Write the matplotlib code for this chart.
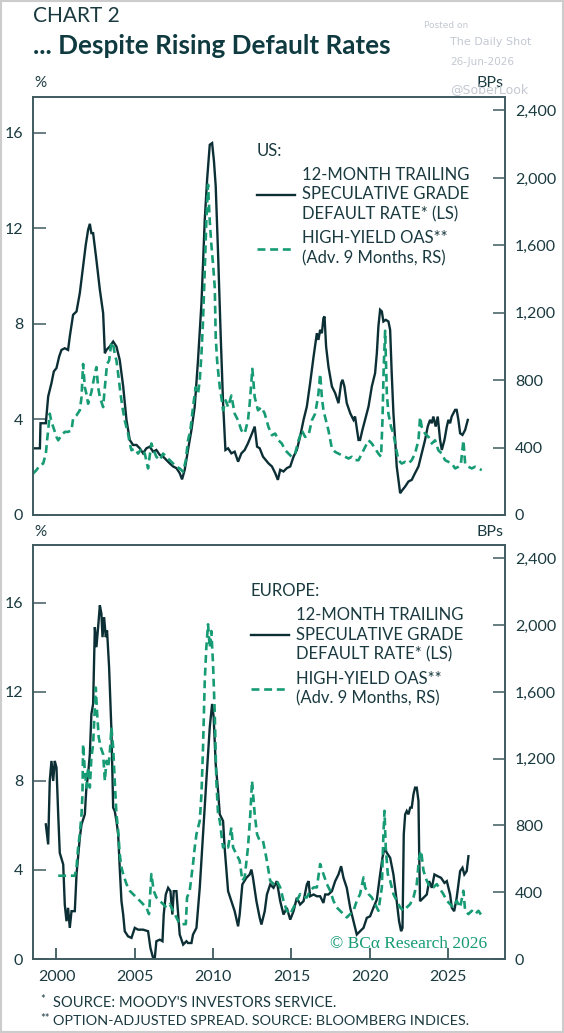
import matplotlib
matplotlib.use("Agg")
import matplotlib.pyplot as plt
from matplotlib.patches import Rectangle
from matplotlib.ticker import FuncFormatter

# US: 12-month trailing spec grade default rate (%)
us_def_year = [1998.62, 1998.94, 1998.98, 1999.32, 1999.47, 1999.68, 1999.83, 2000.00, 2000.17, 2000.32,
               2000.53, 2000.74, 2000.85, 2001.06, 2001.28, 2001.49, 2001.70, 2001.87, 2002.02, 2002.13,
               2002.23, 2002.34, 2002.55, 2002.77, 2002.98, 2003.09, 2003.19, 2003.40, 2003.62, 2003.83,
               2004.04, 2004.26, 2004.47, 2004.68, 2004.89, 2005.11, 2005.32, 2005.53, 2005.74, 2005.96,
               2006.17, 2006.38, 2006.60, 2006.81, 2007.02, 2007.23, 2007.45, 2007.66, 2007.87, 2008.02,
               2008.19, 2008.40, 2008.62, 2008.83, 2009.04, 2009.26, 2009.47, 2009.62, 2009.79, 2009.94,
               2010.06, 2010.17, 2010.32, 2010.49, 2010.64, 2010.79, 2010.96, 2011.17, 2011.38, 2011.60,
               2011.81, 2012.02, 2012.23, 2012.45, 2012.66, 2012.81, 2012.98, 2013.19, 2013.54, 2013.76,
               2013.97, 2014.14, 2014.29, 2014.50, 2014.71, 2014.93, 2015.14, 2015.35, 2015.56, 2015.78,
               2015.99, 2016.20, 2016.42, 2016.63, 2016.73, 2016.84, 2016.95, 2017.05, 2017.12, 2017.22,
               2017.37, 2017.48, 2017.59, 2017.80, 2018.01, 2018.18, 2018.27, 2018.39, 2018.54, 2018.76,
               2018.97, 2019.07, 2019.29, 2019.39, 2019.54, 2019.71, 2019.93, 2020.14, 2020.35, 2020.46,
               2020.56, 2020.67, 2020.78, 2020.88, 2021.03, 2021.20, 2021.31, 2021.41, 2021.52, 2021.63,
               2021.73, 2021.84, 2021.95, 2022.10, 2022.27, 2022.48, 2022.69, 2022.90, 2023.12, 2023.33,
               2023.54, 2023.71, 2023.86, 2023.97, 2024.07, 2024.22, 2024.35, 2024.50, 2024.61, 2024.78,
               2024.93, 2025.03, 2025.14, 2025.24, 2025.46, 2025.56, 2025.67, 2025.78, 2025.93, 2026.10,
               2026.27]
us_def = [2.79, 2.79, 3.84, 3.84, 4.96, 5.52, 6.01, 6.15, 6.63, 6.91,
          6.98, 6.91, 7.47, 8.38, 8.52, 9.29, 10.40, 11.31, 11.94, 12.19,
          11.80, 11.80, 10.68, 9.43, 8.45, 6.77, 6.91, 7.05, 7.26, 7.05,
          6.49, 5.38, 3.98, 3.14, 2.93, 2.93, 2.79, 2.58, 2.79, 2.86,
          2.65, 2.72, 2.51, 2.44, 2.30, 2.16, 2.03, 1.96, 1.75, 1.49,
          1.89, 2.72, 3.56, 4.54, 6.49, 8.87, 12.36, 14.04, 15.50, 15.57,
          14.80, 13.76, 10.96, 7.47, 4.68, 2.72, 2.79, 2.58, 2.65, 2.23,
          2.58, 2.72, 3.00, 3.35, 3.70, 2.86, 2.79, 2.44, 2.16, 2.03,
          1.75, 1.47, 1.89, 1.82, 1.96, 2.03, 2.44, 2.72, 3.28, 3.98,
          4.54, 5.52, 6.63, 7.61, 7.33, 7.75, 7.61, 8.24, 8.31, 7.05,
          6.21, 5.80, 5.38, 5.10, 4.68, 5.52, 5.66, 5.38, 4.68, 4.26,
          3.98, 4.12, 3.14, 3.14, 3.56, 3.98, 4.54, 5.38, 5.94, 6.77,
          7.89, 8.59, 8.52, 8.10, 8.17, 8.10, 7.75, 5.94, 4.26, 3.14,
          2.03, 1.47, 0.91, 1.05, 1.19, 1.40, 1.47, 1.75, 2.03, 2.58,
          3.14, 3.70, 3.98, 3.84, 4.12, 3.70, 4.12, 3.14, 2.72, 3.14,
          3.70, 3.98, 3.84, 4.12, 4.40, 4.40, 3.98, 3.42, 3.35, 3.56,
          3.98]

# US: high-yield OAS advanced 9 months (bp)
us_oas_year = [1998.51, 1998.72, 1998.94, 1999.15, 1999.32, 1999.40, 1999.47, 1999.57, 1999.68, 1999.83,
               2000.00, 2000.11, 2000.32, 2000.53, 2000.74, 2000.96, 2001.06, 2001.28, 2001.49, 2001.60,
               2001.70, 2001.81, 2001.91, 2002.02, 2002.23, 2002.45, 2002.55, 2002.66, 2002.77, 2002.87,
               2002.98, 2003.09, 2003.23, 2003.36, 2003.51, 2003.62, 2003.72, 2003.83, 2003.94, 2004.09,
               2004.21, 2004.36, 2004.57, 2004.68, 2004.79, 2005.00, 2005.21, 2005.43, 2005.64, 2005.85,
               2006.06, 2006.17, 2006.38, 2006.60, 2006.81, 2007.02, 2007.23, 2007.45, 2007.66, 2007.87,
               2008.09, 2008.26, 2008.40, 2008.55, 2008.72, 2008.89, 2009.04, 2009.15, 2009.26, 2009.36,
               2009.47, 2009.57, 2009.68, 2009.79, 2009.89, 2010.00, 2010.11, 2010.17, 2010.26, 2010.32,
               2010.43, 2010.53, 2010.64, 2010.81, 2010.96, 2011.17, 2011.38, 2011.60, 2011.81, 2012.02,
               2012.23, 2012.34, 2012.51, 2012.66, 2012.87, 2013.09, 2013.30, 2013.54, 2013.76, 2013.97,
               2014.18, 2014.39, 2014.61, 2014.82, 2015.03, 2015.24, 2015.46, 2015.67, 2015.88, 2016.10,
               2016.31, 2016.52, 2016.63, 2016.73, 2016.84, 2016.95, 2017.05, 2017.16, 2017.37, 2017.59,
               2017.80, 2018.01, 2018.22, 2018.44, 2018.65, 2018.86, 2019.07, 2019.29, 2019.50, 2019.71,
               2019.93, 2020.14, 2020.35, 2020.56, 2020.73, 2020.82, 2020.90, 2020.99, 2021.10, 2021.20,
               2021.37, 2021.52, 2021.67, 2021.84, 2022.05, 2022.27, 2022.48, 2022.69, 2022.90, 2023.12,
               2023.22, 2023.33, 2023.54, 2023.76, 2023.97, 2024.18, 2024.39, 2024.61, 2024.82, 2025.03,
               2025.25, 2025.46, 2025.67, 2025.82, 2025.99, 2026.10, 2026.31, 2026.52, 2026.74, 2026.95,
               2027.16]
us_oas = [246, 266, 296, 305, 364, 443, 502, 601, 552, 512,
          463, 443, 473, 493, 493, 502, 571, 591, 621, 699,
          896, 758, 719, 660, 729, 837, 877, 758, 699, 670,
          640, 758, 896, 916, 1024, 1015, 955, 916, 837, 719,
          640, 561, 483, 424, 384, 394, 364, 394, 364, 276,
          424, 394, 345, 325, 364, 345, 325, 305, 286, 276,
          256, 325, 443, 502, 640, 758, 719, 798, 955, 1152,
          1448, 1743, 1960, 1743, 1606, 1487, 1349, 1054, 916, 857,
          758, 699, 621, 680, 640, 709, 601, 561, 502, 483,
          561, 660, 867, 699, 621, 640, 601, 522, 473, 483,
          443, 424, 384, 364, 345, 364, 443, 502, 463, 473,
          561, 601, 660, 719, 837, 699, 621, 581, 502, 394,
          374, 364, 355, 345, 335, 345, 325, 325, 364, 404,
          443, 424, 394, 364, 345, 561, 877, 1093, 719, 601,
          522, 483, 404, 325, 305, 315, 305, 325, 364, 443,
          581, 522, 483, 463, 424, 443, 384, 364, 325, 315,
          305, 276, 286, 296, 443, 305, 286, 276, 286, 276,
          266]

# Europe: 12-month trailing spec grade default rate (%)
eu_def_year = [1999.32, 1999.47, 1999.57, 1999.68, 1999.79, 1999.89, 2000.00, 2000.11, 2000.21, 2000.43,
               2000.53, 2000.64, 2000.74, 2000.85, 2000.96, 2001.17, 2001.28, 2001.49, 2001.60, 2001.81,
               2001.91, 2002.02, 2002.13, 2002.23, 2002.34, 2002.45, 2002.55, 2002.66, 2002.77, 2002.87,
               2002.94, 2003.04, 2003.15, 2003.23, 2003.36, 2003.51, 2003.62, 2003.72, 2003.83, 2003.94,
               2004.04, 2004.15, 2004.26, 2004.36, 2004.57, 2004.79, 2005.00, 2005.21, 2005.53, 2005.85,
               2006.00, 2006.17, 2006.28, 2006.38, 2006.60, 2006.77, 2006.85, 2006.98, 2007.13, 2007.28,
               2007.40, 2007.49, 2007.66, 2007.77, 2007.87, 2008.09, 2008.30, 2008.40, 2008.62, 2008.72,
               2008.94, 2009.15, 2009.36, 2009.57, 2009.79, 2009.94, 2010.04, 2010.17, 2010.32, 2010.43,
               2010.64, 2010.74, 2010.96, 2011.17, 2011.38, 2011.60, 2011.70, 2011.87, 2012.13, 2012.34,
               2012.45, 2012.55, 2012.77, 2012.98, 2013.09, 2013.30, 2013.44, 2013.65, 2013.86, 2014.07,
               2014.29, 2014.50, 2014.71, 2014.93, 2015.14, 2015.35, 2015.56, 2015.78, 2015.99, 2016.10,
               2016.20, 2016.42, 2016.63, 2016.84, 2017.05, 2017.16, 2017.37, 2017.59, 2017.80, 2018.01,
               2018.18, 2018.33, 2018.54, 2018.76, 2018.97, 2019.18, 2019.39, 2019.61, 2019.82, 2020.03,
               2020.24, 2020.46, 2020.67, 2020.82, 2020.95, 2021.10, 2021.31, 2021.52, 2021.73, 2021.88,
               2022.01, 2022.10, 2022.18, 2022.27, 2022.37, 2022.48, 2022.59, 2022.69, 2022.80, 2022.90,
               2023.01, 2023.12, 2023.16, 2023.22, 2023.44, 2023.65, 2023.80, 2023.97, 2024.14, 2024.35,
               2024.56, 2024.78, 2024.93, 2025.14, 2025.25, 2025.40, 2025.56, 2025.78, 2025.93, 2026.05,
               2026.20, 2026.31]
eu_def = [6.05, 5.15, 8.00, 8.90, 8.00, 8.90, 8.60, 6.50, 4.77, 4.25,
          2.45, 1.70, 2.30, 1.40, 2.15, 2.15, 3.80, 5.45, 6.05, 6.50,
          7.70, 8.30, 9.20, 11.01, 11.46, 14.91, 14.01, 14.91, 15.89, 15.51,
          14.46, 15.36, 14.46, 14.76, 13.11, 10.26, 6.80, 6.65, 6.20, 5.60,
          4.10, 2.60, 2.00, 1.25, 1.02, 0.95, 1.40, 1.32, 1.32, 1.25,
          0.50, 0.05, 0.05, 0.80, 0.87, 0.80, 2.00, 2.90, 3.20, 3.05,
          2.00, 3.05, 3.05, 2.00, 1.10, 0.65, 0.80, 0.72, 0.72, 1.10,
          1.40, 3.20, 5.60, 8.00, 10.41, 11.46, 10.86, 8.75, 7.55, 6.50,
          6.20, 5.00, 3.05, 2.60, 2.15, 1.47, 2.00, 3.35, 3.65, 3.80,
          4.02, 3.65, 2.60, 1.85, 1.55, 2.15, 2.90, 3.35, 3.20, 3.50,
          2.60, 2.00, 2.30, 1.77, 2.15, 2.75, 2.45, 2.60, 3.35, 3.50,
          2.82, 2.90, 2.82, 2.82, 2.52, 2.90, 2.90, 3.05, 3.50, 3.80,
          4.17, 3.65, 3.20, 2.30, 1.70, 1.10, 1.25, 1.40, 1.85, 1.92,
          2.30, 2.67, 3.80, 4.55, 5.00, 4.77, 4.55, 3.80, 2.60, 1.70,
          1.25, 1.40, 5.60, 6.50, 6.65, 6.50, 6.80, 6.80, 7.40, 7.70,
          7.70, 7.10, 5.00, 2.60, 2.75, 2.90, 3.50, 3.20, 3.80, 3.72,
          3.65, 3.42, 3.50, 2.90, 2.30, 2.15, 2.75, 3.95, 4.10, 3.80,
          3.95, 4.62]

# Europe: high-yield OAS advanced 9 months (bp)
eu_oas_year = [2000.11, 2001.17, 2001.28, 2001.38, 2001.49, 2001.60, 2001.66, 2001.70, 2001.81, 2001.91,
               2002.02, 2002.13, 2002.23, 2002.34, 2002.45, 2002.51, 2002.60, 2002.70, 2002.83, 2002.98,
               2003.09, 2003.19, 2003.30, 2003.40, 2003.51, 2003.62, 2003.72, 2003.83, 2003.94, 2004.04,
               2004.15, 2004.26, 2004.47, 2004.68, 2004.89, 2005.11, 2005.32, 2005.53, 2005.74, 2005.91,
               2006.06, 2006.21, 2006.38, 2006.60, 2006.81, 2007.02, 2007.23, 2007.45, 2007.66, 2007.87,
               2008.09, 2008.26, 2008.34, 2008.51, 2008.72, 2008.83, 2008.94, 2009.15, 2009.26, 2009.36,
               2009.47, 2009.57, 2009.68, 2009.79, 2009.89, 2010.00, 2010.11, 2010.21, 2010.32, 2010.43,
               2010.53, 2010.64, 2010.81, 2010.96, 2011.17, 2011.28, 2011.49, 2011.70, 2011.87, 2012.02,
               2012.23, 2012.38, 2012.49, 2012.66, 2012.81, 2012.98, 2013.19, 2013.40, 2013.65, 2013.86,
               2014.07, 2014.29, 2014.50, 2014.71, 2014.93, 2015.14, 2015.35, 2015.56, 2015.78, 2015.99,
               2016.20, 2016.42, 2016.63, 2016.84, 2017.05, 2017.27, 2017.48, 2017.69, 2017.90, 2018.12,
               2018.33, 2018.54, 2018.76, 2018.97, 2019.18, 2019.39, 2019.61, 2019.71, 2019.93, 2020.14,
               2020.35, 2020.56, 2020.78, 2020.88, 2020.95, 2021.03, 2021.16, 2021.31, 2021.52, 2021.73,
               2021.95, 2022.16, 2022.37, 2022.59, 2022.80, 2023.01, 2023.16, 2023.29, 2023.44, 2023.65,
               2023.86, 2024.07, 2024.29, 2024.50, 2024.71, 2024.93, 2025.14, 2025.35, 2025.56, 2025.78,
               2025.99, 2026.10, 2026.31, 2026.52, 2026.74, 2026.95, 2027.16]
eu_oas = [499, 499, 549, 668, 748, 868, 988, 1287, 1127, 1027,
          1147, 1027, 1207, 1287, 1506, 1626, 1466, 1327, 1267, 1227,
          1067, 1187, 1147, 1227, 1387, 1267, 1067, 868, 768, 628,
          549, 509, 449, 409, 389, 369, 349, 329, 309, 269,
          509, 409, 369, 349, 329, 309, 329, 289, 249, 209,
          209, 209, 369, 409, 569, 668, 748, 828, 988, 1267,
          1666, 1865, 2005, 1865, 1965, 1766, 1466, 1067, 868, 828,
          748, 668, 688, 668, 788, 668, 628, 589, 469, 489,
          668, 868, 1067, 868, 748, 708, 708, 608, 469, 449,
          469, 429, 349, 289, 269, 309, 349, 389, 369, 369,
          409, 429, 429, 569, 509, 449, 409, 349, 309, 289,
          269, 249, 269, 289, 349, 389, 489, 429, 389, 369,
          329, 289, 429, 748, 888, 668, 509, 469, 389, 349,
          309, 289, 309, 329, 369, 449, 608, 648, 529, 469,
          429, 429, 449, 419, 389, 349, 329, 309, 349, 309,
          409, 289, 269, 289, 269, 289, 259]

x_ticks = [2000, 2005, 2010, 2015, 2020, 2025]
left_ticks = [0, 4, 8, 12, 16]
right_ticks = [0, 400, 800, 1200, 1600, 2000, 2400]

dark = '#0c2f35'
green = '#169b74'
spine_col = '#3f5b5f'
text_col = '#1a3a40'
font = 'Lato'


def style_axes(ax, ax2, ytop, show_x):
    ax.set_xlim(1998.5, 2028.65)
    ax.set_ylim(0, ytop)
    ax2.set_ylim(0, 2480)
    ax.set_yticks(left_ticks)
    ax2.set_yticks(right_ticks)
    ax2.yaxis.set_major_formatter(FuncFormatter(lambda v, p: '{:,.0f}'.format(v)))
    for a in (ax, ax2):
        for s in a.spines.values():
            s.set_color(spine_col)
            s.set_linewidth(1.2)
    ax.tick_params(axis='y', direction='in', length=9, width=1.1, color=spine_col,
                   labelsize=11.5, labelcolor=text_col, pad=7)
    ax2.tick_params(axis='y', direction='in', length=9, width=1.1, color=spine_col,
                    labelsize=11.5, labelcolor=text_col, pad=7)
    if show_x:
        ax.set_xticks(x_ticks)
        ax.tick_params(axis='x', direction='in', length=8, width=1.3, color=spine_col,
                       labelsize=11.5, labelcolor=text_col, pad=8)
    else:
        ax.set_xticks([])
    for lab in ax.get_yticklabels() + ax2.get_yticklabels() + ax.get_xticklabels():
        lab.set_fontfamily(font)


def panel(rect, ytop, yrs1, vals1, yrs2, vals2, region, show_x, anchor):
    ax = fig.add_axes(rect)
    ax2 = ax.twinx()
    l1, = ax.plot(yrs1, vals1, color=dark, lw=1.7, solid_joinstyle='miter')
    l2, = ax2.plot(yrs2, vals2, color=green, lw=1.9, linestyle=(0, (3, 1.8)))
    style_axes(ax, ax2, ytop, show_x)

    # legend block with the region name as title
    leg = ax2.legend([l1, l2],
                     ['12-MONTH TRAILING\nSPECULATIVE GRADE\nDEFAULT RATE* (LS)',
                      'HIGH-YIELD OAS**\n(Adv. 9 Months, RS)'],
                     title=region, alignment='left', loc='upper left',
                     bbox_to_anchor=anchor, frameon=False, borderpad=0,
                     handlelength=2.3, handletextpad=0.4, labelspacing=0.5,
                     prop={'family': font, 'size': 12},
                     title_fontproperties={'family': font, 'size': 12})
    leg.get_title().set_color(text_col)
    for t in leg.get_texts():
        t.set_color(text_col)
        t.set_linespacing(1.27)
    return ax, ax2


fig = plt.figure(figsize=(5.64, 10.33), dpi=100)

top_ax, top_ax2 = panel([0.0585, 0.5015, 0.837, 0.4046], 17.5,
                        us_def_year, us_def, us_oas_year, us_oas, 'US:', False, (0.457, 0.911))
bot_ax, bot_ax2 = panel([0.0585, 0.0716, 0.837, 0.4008], 18.6,
                        eu_def_year, eu_def, eu_oas_year, eu_oas, 'EUROPE:', True, (0.444, 0.929))

bot_ax2.text(0.962, 0.036, '\u00a9 BC\u03b1 Research 2026', transform=bot_ax2.transAxes,
             ha='right', va='center', color=green, fontsize=12.5, family='Liberation Serif')

# titles and axis units
fig.text(0.0585, 0.9845, 'CHART 2', family=font, fontsize=15,
         color=text_col, va='center', ha='left')
fig.text(0.0585, 0.9555, '... Despite Rising Default Rates', family=font,
         fontweight='bold', fontsize=18.8, color='#0f3b40', va='center', ha='left')
for yy in (0.9197, 0.485):
    fig.text(0.071, yy, '%', family=font, fontsize=11, color=text_col, ha='center', va='center')
    fig.text(0.8936, yy, 'BPs', family=font, fontsize=11.5, color=text_col, ha='right', va='center')

# watermark
wm = '#c3c8d2'
fig.text(0.752, 0.975, 'Posted on', fontsize=6.5, color=wm, family='DejaVu Sans', va='center')
fig.text(0.798, 0.959, 'The Daily Shot', fontsize=8, color=wm, family='DejaVu Sans', va='center')
fig.text(0.798, 0.940, '26-Jun-2026', fontsize=7.5, color=wm, family='DejaVu Sans', va='center')
fig.text(0.798, 0.913, '@SoberLook', fontsize=9, color=wm, family='DejaVu Sans', va='center')

# footnotes
fig.text(0.071, 0.032, '*', family=font, fontsize=8, color=text_col, va='center')
fig.text(0.094, 0.029, "SOURCE: MOODY'S INVESTORS SERVICE.", family=font, fontsize=10.6,
         color=text_col, va='center')
fig.text(0.071, 0.0145, '**', family=font, fontsize=8, color=text_col, va='center')
fig.text(0.094, 0.0116, 'OPTION-ADJUSTED SPREAD. SOURCE: BLOOMBERG INDICES.', family=font,
         fontsize=10.4, color=text_col, va='center')

# thin grey frame around the whole image
fig.patches.append(Rectangle((0.001, 0.001), 0.998, 0.998, transform=fig.transFigure,
                             fill=False, edgecolor='#cccccc', lw=1.5))

fig.savefig('out.png', dpi=100)
plt.close(fig)
